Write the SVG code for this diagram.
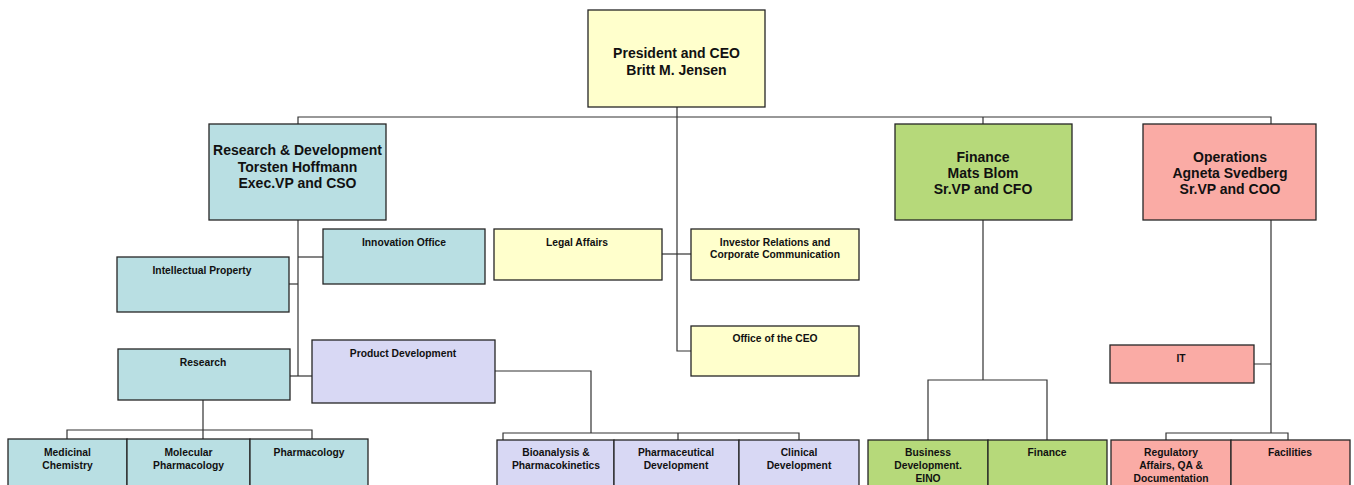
<svg xmlns="http://www.w3.org/2000/svg" width="1354" height="485" viewBox="0 0 1354 485">
<style>
rect{stroke:#262626;stroke-width:1.3}
.y{fill:#FFFFCC}.t{fill:#B9DFE3}.v{fill:#D8D8F4}.g{fill:#B6D97A}.p{fill:#FAABA5}
text{font-family:"Liberation Sans",Arial,sans-serif;font-weight:bold;fill:#111;text-anchor:middle}
.b{font-size:14px}.s{font-size:10.3px}
#connectors path{fill:none;stroke:#333;stroke-width:1.2}
</style>
<rect width="1354" height="485" fill="#fff" style="stroke:none"/>
<g id="connectors">
<path d="M677 107V351H691"/>
<path d="M298 124V117H1271V124"/>
<path d="M983 117V124"/>
<path d="M298 220V376"/>
<path d="M298 257H323"/>
<path d="M289 284H298"/>
<path d="M290 376H312"/>
<path d="M662 254H691"/>
<path d="M203 400V430M67 439V430H312V439M203 430V439"/>
<path d="M495 371H591V433M503 440V433H799V440M678 433V440"/>
<path d="M983 220V380M928 440V380H1047V440"/>
<path d="M1271 220V433M1166 440V433H1288V440M1254 364H1271"/>
</g>
<g id="ceo"><rect class="y" x="588" y="10" width="177" height="97"/><text class="b" x="676.5" y="58">President and CEO</text><text class="b" x="676.5" y="75">Britt M. Jensen</text></g>
<g id="rd"><rect class="t" x="209" y="124" width="177" height="96"/><text class="b" x="297.5" y="155">Research &amp; Development</text><text class="b" x="297.5" y="172">Torsten Hoffmann</text><text class="b" x="297.5" y="188">Exec.VP and CSO</text></g>
<g id="finance"><rect class="g" x="895" y="124" width="177" height="96"/><text class="b" x="983" y="162">Finance</text><text class="b" x="983" y="178">Mats Blom</text><text class="b" x="983" y="194">Sr.VP and CFO</text></g>
<g id="operations"><rect class="p" x="1143" y="124" width="173" height="96"/><text class="b" x="1230" y="162">Operations</text><text class="b" x="1230" y="178">Agneta Svedberg</text><text class="b" x="1230" y="194">Sr.VP and COO</text></g>
<g id="innovation"><rect class="t" x="323" y="229" width="162" height="55"/><text class="s" x="404" y="246">Innovation Office</text></g>
<g id="ip"><rect class="t" x="117" y="257" width="172" height="55"/><text class="s" x="202" y="274">Intellectual Property</text></g>
<g id="research"><rect class="t" x="118" y="349" width="172" height="51"/><text class="s" x="203" y="365.5">Research</text></g>
<g id="productdev"><rect class="v" x="312" y="340" width="183" height="63"/><text class="s" x="403" y="356.5">Product Development</text></g>
<g id="legal"><rect class="y" x="494" y="229" width="168" height="51"/><text class="s" x="577" y="245.5">Legal Affairs</text></g>
<g id="investor"><rect class="y" x="691" y="229" width="168" height="51"/><text class="s" x="775" y="245.5">Investor Relations and</text><text class="s" x="775" y="258">Corporate Communication</text></g>
<g id="office"><rect class="y" x="691" y="326" width="168" height="50"/><text class="s" x="775" y="341.5">Office of the CEO</text></g>
<g id="it"><rect class="p" x="1110" y="345" width="144" height="38"/><text class="s" x="1181" y="361.5">IT</text></g>
<g id="medchem"><rect class="t" x="8" y="439" width="119" height="52"/><text class="s" x="67.5" y="455.5">Medicinal</text><text class="s" x="67.5" y="468.5">Chemistry</text></g>
<g id="molpharm"><rect class="t" x="127" y="439" width="123" height="52"/><text class="s" x="188.5" y="455.5">Molecular</text><text class="s" x="188.5" y="468.5">Pharmacology</text></g>
<g id="pharmacology"><rect class="t" x="250" y="439" width="118" height="52"/><text class="s" x="309" y="455.5">Pharmacology</text></g>
<g id="bioanalysis"><rect class="v" x="497" y="440" width="117" height="51"/><text class="s" x="556" y="455.5">Bioanalysis &amp;</text><text class="s" x="556" y="468.5">Pharmacokinetics</text></g>
<g id="pharmdev"><rect class="v" x="614" y="440" width="125" height="51"/><text class="s" x="676" y="455.5">Pharmaceutical</text><text class="s" x="676" y="468.5">Development</text></g>
<g id="clinical"><rect class="v" x="739" y="440" width="120" height="51"/><text class="s" x="799" y="455.5">Clinical</text><text class="s" x="799" y="468.5">Development</text></g>
<g id="busdev"><rect class="g" x="868" y="440" width="120" height="51"/><text class="s" x="928" y="455.5">Business</text><text class="s" x="928" y="468.5">Development.</text><text class="s" x="928" y="481.5">EINO</text></g>
<g id="finance2"><rect class="g" x="988" y="440" width="119" height="51"/><text class="s" x="1047" y="455.5">Finance</text></g>
<g id="regulatory"><rect class="p" x="1111" y="440" width="120" height="51"/><text class="s" x="1171" y="455.5">Regulatory</text><text class="s" x="1171" y="468.5">Affairs, QA &amp;</text><text class="s" x="1171" y="481.5">Documentation</text></g>
<g id="facilities"><rect class="p" x="1231" y="440" width="119" height="51"/><text class="s" x="1290" y="455.5">Facilities</text></g>
</svg>
